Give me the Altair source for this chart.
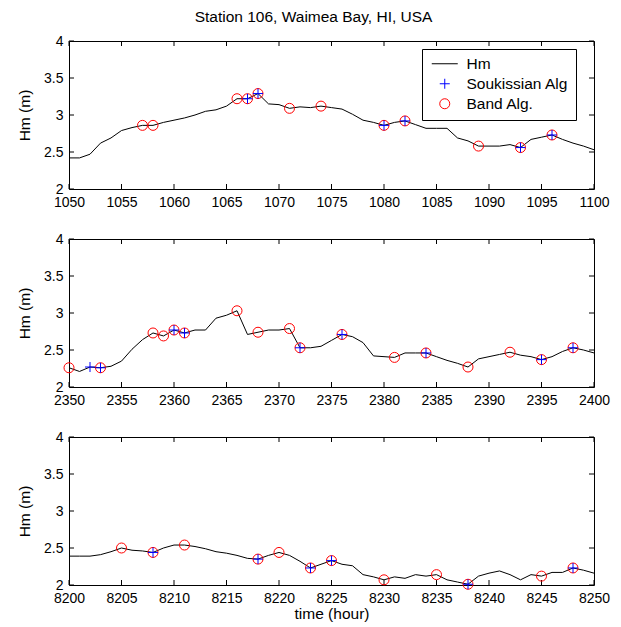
import altair as alt
import pandas as pd

# ---------------- data ----------------
hours1 = list(range(1050, 1101))
hm1 = [2.42, 2.42, 2.47, 2.62, 2.69, 2.79, 2.83, 2.86, 2.86, 2.90,
       2.93, 2.96, 3.00, 3.05, 3.07, 3.12, 3.22, 3.22, 3.29, 3.15,
       3.14, 3.09, 3.11, 3.10, 3.12, 3.10, 3.08, 3.01, 2.93, 2.90,
       2.86, 2.90, 2.92, 2.87, 2.82, 2.82, 2.82, 2.69, 2.65, 2.58,
       2.58, 2.58, 2.60, 2.56, 2.67, 2.70, 2.73, 2.67, 2.62, 2.58,
       2.53]
souk1 = [1067, 1068, 1080, 1082, 1093, 1096]
band1 = [1057, 1058, 1066, 1067, 1068, 1071, 1074, 1080, 1082, 1089, 1093, 1096]

hours2 = list(range(2350, 2401))
hm2 = [2.26, 2.21, 2.27, 2.26, 2.28, 2.35, 2.51, 2.64, 2.73, 2.69,
       2.77, 2.73, 2.77, 2.77, 2.93, 2.97, 3.03, 2.71, 2.74, 2.77,
       2.77, 2.79, 2.53, 2.53, 2.55, 2.63, 2.71, 2.68, 2.60, 2.42,
       2.41, 2.40, 2.46, 2.46, 2.46, 2.41, 2.36, 2.32, 2.27, 2.38,
       2.41, 2.44, 2.47, 2.43, 2.41, 2.37, 2.41, 2.48, 2.53, 2.50,
       2.46]
souk2 = [2352, 2353, 2360, 2361, 2372, 2376, 2384, 2395, 2398]
band2 = [2350, 2353, 2358, 2359, 2360, 2361, 2366, 2368, 2371, 2372,
         2376, 2381, 2384, 2388, 2392, 2395, 2398]

hours3 = list(range(8200, 8251))
hm3 = [2.39, 2.39, 2.39, 2.41, 2.45, 2.50, 2.47, 2.46, 2.44, 2.50,
       2.54, 2.54, 2.52, 2.49, 2.45, 2.43, 2.40, 2.36, 2.35, 2.40,
       2.44, 2.40, 2.32, 2.23, 2.28, 2.33, 2.28, 2.26, 2.14, 2.11,
       2.07, 2.11, 2.09, 2.14, 2.12, 2.14, 2.07, 2.04, 2.01, 2.12,
       2.16, 2.19, 2.14, 2.07, 2.14, 2.12, 2.17, 2.17, 2.23, 2.20,
       2.16]
souk3 = [8208, 8218, 8223, 8225, 8238, 8248]
band3 = [8205, 8208, 8211, 8218, 8220, 8223, 8225, 8230, 8235, 8238, 8245, 8248]

xticks1 = [1050, 1055, 1060, 1065, 1070, 1075, 1080, 1085, 1090, 1095, 1100]
xticks2 = [2350, 2355, 2360, 2365, 2370, 2375, 2380, 2385, 2390, 2395, 2400]
xticks3 = [8200, 8205, 8210, 8215, 8220, 8225, 8230, 8235, 8240, 8245, 8250]
yticks = [2, 2.5, 3, 3.5, 4]

SERIES = ["Hm", "Soukissian Alg", "Band Alg."]
COLORS = ["black", "#0000ff", "#ff0000"]
LINE_SYM = "M-2.6,0H2.6"
PLUS_SYM = "M-1,0H1M0,-1V1"
SHAPES = [LINE_SYM, PLUS_SYM, "circle"]

TITLE = "Station 106, Waimea Bay, HI, USA"
FONT = "Liberation Sans"

W, H = 525, 148
TL = 5  # inner tick length


def panel(hours, hm, souk, band, xticks, first, last):
    lookup = dict(zip(hours, hm))
    line_df = pd.DataFrame({"t": hours, "hm": hm})
    rows = [{"t": t, "hm": lookup[t], "series": "Band Alg."} for t in band]
    rows += [{"t": t, "hm": lookup[t], "series": "Soukissian Alg"} for t in souk]
    pts = pd.DataFrame(rows)
    xt = pd.DataFrame({"t": xticks})
    yt = pd.DataFrame({"hm": yticks})

    xscale = alt.Scale(domain=[xticks[0], xticks[-1]], nice=False, zero=False)
    yscale = alt.Scale(domain=[2, 4], nice=False, zero=False)
    xaxis = alt.Axis(values=xticks, format="d", ticks=False, grid=False, domain=False,
                     labelPadding=6, labelFlush=False, labelOverlap=False,
                     title="time (hour)" if last else None, titlePadding=1)
    yaxis = alt.Axis(values=yticks, labelExpr="format(datum.value, '~g')",
                     ticks=False, grid=False, domain=False, tickCount=5,
                     labelPadding=6, labelFlush=False, labelOverlap=False,
                     title="Hm (m)", titlePadding=11)

    X = lambda: alt.X("t:Q", scale=xscale, axis=xaxis)
    Y = lambda: alt.Y("hm:Q", scale=yscale, axis=yaxis)

    line = alt.Chart(line_df).mark_line(color="black", strokeWidth=1).encode(x=X(), y=Y())

    if first:
        legend = alt.Legend(
            orient="none", legendX=353, legendY=8, title=None,
            strokeColor="black", fillColor="white", padding=7,
            labelFont=FONT, labelFontSize=15.5, labelColor="black",
            symbolSize=100, symbolStrokeWidth=1, labelOffset=14,
            rowPadding=3, symbolOffset=8,
        )
    else:
        legend = None

    points = alt.Chart(pts).mark_point(filled=False, size=100, strokeWidth=1, opacity=1).encode(
        x=X(), y=Y(),
        color=alt.Color("series:N", scale=alt.Scale(domain=SERIES, range=COLORS), legend=legend),
        shape=alt.Shape("series:N", scale=alt.Scale(domain=SERIES, range=SHAPES), legend=legend),
    )

    bot = alt.Chart(xt).mark_rule(color="black", strokeWidth=1).encode(
        x=X(), y=alt.value(H), y2=alt.value(H - TL))
    top = alt.Chart(xt).mark_rule(color="black", strokeWidth=1).encode(
        x=X(), y=alt.value(0), y2=alt.value(TL))
    left = alt.Chart(yt).mark_rule(color="black", strokeWidth=1).encode(
        y=Y(), x=alt.value(0), x2=alt.value(TL))
    right = alt.Chart(yt).mark_rule(color="black", strokeWidth=1).encode(
        y=Y(), x=alt.value(W - TL), x2=alt.value(W))

    return alt.layer(line, bot, top, left, right, points).properties(width=W, height=H)


p1 = panel(hours1, hm1, souk1, band1, xticks1, True, False)
p2 = panel(hours2, hm2, souk2, band2, xticks2, False, False)
p3 = panel(hours3, hm3, souk3, band3, xticks3, False, True)

chart = alt.vconcat(p1, p2, p3, spacing=50, bounds="flush").resolve_scale(
    color="independent", shape="independent", x="independent"
).properties(
    title=alt.TitleParams(TITLE, font=FONT, fontSize=15.5, fontWeight="normal",
                          color="black", anchor="middle", offset=8),
    padding={"left": 17, "top": 10, "right": 10, "bottom": 4},
).configure_view(
    stroke="black", strokeWidth=1
).configure_axis(
    labelFont=FONT, labelFontSize=14, labelColor="black",
    titleFont=FONT, titleFontSize=15.5, titleFontWeight="normal", titleColor="black",
)

chart.save("out.html", embed_options={"renderer": "svg", "actions": False})
